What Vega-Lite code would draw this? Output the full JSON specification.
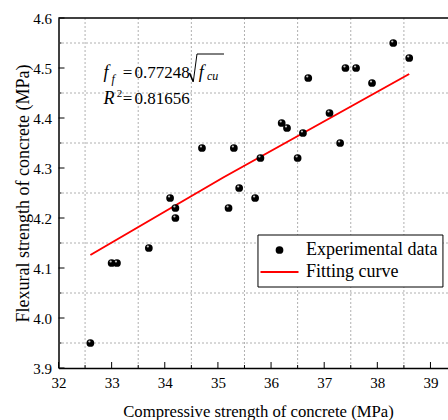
{
  "$schema": "https://vega.github.io/schema/vega-lite/v6.json",
  "autosize": "none",
  "width": 389.5,
  "height": 350,
  "padding": {"left": 58.5, "top": 18, "right": 0, "bottom": 52},
  "background": "white",
  "config": {
    "view": {"stroke": null},
    "font": "Times New Roman"
  },
  "datasets": {
    "points": [
      {"x": 32.6, "y": 3.95, "series": "Experimental data"},
      {"x": 33.0, "y": 4.11, "series": "Experimental data"},
      {"x": 33.1, "y": 4.11, "series": "Experimental data"},
      {"x": 33.7, "y": 4.14, "series": "Experimental data"},
      {"x": 34.1, "y": 4.24, "series": "Experimental data"},
      {"x": 34.2, "y": 4.22, "series": "Experimental data"},
      {"x": 34.2, "y": 4.20, "series": "Experimental data"},
      {"x": 34.7, "y": 4.34, "series": "Experimental data"},
      {"x": 35.2, "y": 4.22, "series": "Experimental data"},
      {"x": 35.3, "y": 4.34, "series": "Experimental data"},
      {"x": 35.4, "y": 4.26, "series": "Experimental data"},
      {"x": 35.7, "y": 4.24, "series": "Experimental data"},
      {"x": 35.8, "y": 4.32, "series": "Experimental data"},
      {"x": 36.2, "y": 4.39, "series": "Experimental data"},
      {"x": 36.3, "y": 4.38, "series": "Experimental data"},
      {"x": 36.5, "y": 4.32, "series": "Experimental data"},
      {"x": 36.6, "y": 4.37, "series": "Experimental data"},
      {"x": 36.7, "y": 4.48, "series": "Experimental data"},
      {"x": 37.1, "y": 4.41, "series": "Experimental data"},
      {"x": 37.3, "y": 4.35, "series": "Experimental data"},
      {"x": 37.4, "y": 4.50, "series": "Experimental data"},
      {"x": 37.6, "y": 4.50, "series": "Experimental data"},
      {"x": 37.9, "y": 4.47, "series": "Experimental data"},
      {"x": 38.3, "y": 4.55, "series": "Experimental data"},
      {"x": 38.6, "y": 4.52, "series": "Experimental data"}
    ],
    "fit": [
      {"x": 32.6, "y": 4.126, "series": "Fitting curve"},
      {"x": 35.1, "y": 4.281, "series": "Fitting curve"},
      {"x": 38.6, "y": 4.488, "series": "Fitting curve"}
    ],
    "gridx": [{"v": 32.5}, {"v": 33.5}, {"v": 34.5}, {"v": 35.5}, {"v": 36.5}, {"v": 37.5}, {"v": 38.5}],
    "gridy": [{"v": 3.95}, {"v": 4.05}, {"v": 4.15}, {"v": 4.25}, {"v": 4.35}, {"v": 4.45}, {"v": 4.55}],
    "xmajor": [{"v": 32}, {"v": 33}, {"v": 34}, {"v": 35}, {"v": 36}, {"v": 37}, {"v": 38}, {"v": 39}],
    "ymajor": [{"v": 3.9}, {"v": 4.0}, {"v": 4.1}, {"v": 4.2}, {"v": 4.3}, {"v": 4.4}, {"v": 4.5}, {"v": 4.6}]
  },
  "layer": [
    {
      "data": {"name": "gridx"},
      "mark": {"type": "rule", "color": "#b0b0b0", "strokeWidth": 1, "strokeDash": [2, 2]},
      "encoding": {
        "x": {
          "field": "v", "type": "quantitative",
          "scale": {"domain": [32, 39.33], "nice": false, "zero": false},
          "axis": {
            "title": "Compressive strength of concrete (MPa)",
            "values": [32, 33, 34, 35, 36, 37, 38, 39],
            "format": "d",
            "labelFont": "Times New Roman", "labelFontSize": 15, "labelColor": "black",
            "labelPadding": 7, "labelFlush": false, "labelOverlap": false,
            "ticks": false, "grid": false,
            "domainColor": "black", "domainWidth": 1.5,
            "titleFont": "Times New Roman", "titleFontSize": 16.7, "titleFontWeight": "normal",
            "titleColor": "black", "titlePadding": 13, "titleX": 199.5
          }
        }
      }
    },
    {
      "data": {"name": "gridy"},
      "mark": {"type": "rule", "color": "#b0b0b0", "strokeWidth": 1, "strokeDash": [2, 2]},
      "encoding": {
        "y": {
          "field": "v", "type": "quantitative",
          "scale": {"domain": [3.9, 4.6], "nice": false, "zero": false},
          "axis": {
            "title": "Flexural strength of concrete (MPa)",
            "values": [3.9, 4.0, 4.1, 4.2, 4.3, 4.4, 4.5, 4.6],
            "format": ".1f",
            "labelFont": "Times New Roman", "labelFontSize": 15, "labelColor": "black",
            "labelPadding": 7, "labelFlush": false, "labelOverlap": false,
            "ticks": false, "grid": false,
            "domainColor": "black", "domainWidth": 1.5,
            "titleFont": "Times New Roman", "titleFontSize": 18, "titleFontWeight": "normal",
            "titleColor": "black", "titlePadding": 0
          }
        }
      }
    },
    {
      "data": {"name": "xmajor"},
      "mark": {"type": "rule", "color": "black", "strokeWidth": 1},
      "encoding": {
        "x": {"field": "v", "type": "quantitative"},
        "y": {"datum": 3.9, "type": "quantitative"},
        "y2": {"datum": 3.912}
      }
    },
    {
      "data": {"name": "gridx"},
      "mark": {"type": "rule", "color": "black", "strokeWidth": 1},
      "encoding": {
        "x": {"field": "v", "type": "quantitative"},
        "y": {"datum": 3.9, "type": "quantitative"},
        "y2": {"datum": 3.906}
      }
    },
    {
      "data": {"name": "ymajor"},
      "mark": {"type": "rule", "color": "black", "strokeWidth": 1},
      "encoding": {
        "y": {"field": "v", "type": "quantitative"},
        "x": {"datum": 32, "type": "quantitative"},
        "x2": {"datum": 32.113}
      }
    },
    {
      "data": {"name": "gridy"},
      "mark": {"type": "rule", "color": "black", "strokeWidth": 1},
      "encoding": {
        "y": {"field": "v", "type": "quantitative"},
        "x": {"datum": 32, "type": "quantitative"},
        "x2": {"datum": 32.056}
      }
    },
    {
      "data": {"values": [{}]},
      "mark": {"type": "rule", "color": "black", "strokeWidth": 1.5},
      "encoding": {"y": {"datum": 4.6, "type": "quantitative"}}
    },
    {
      "data": {"name": "fit"},
      "mark": {"type": "line", "strokeWidth": 2},
      "encoding": {
        "x": {"field": "x", "type": "quantitative"},
        "y": {"field": "y", "type": "quantitative"},
        "color": {
          "field": "series", "type": "nominal",
          "scale": {"domain": ["Experimental data", "Fitting curve"], "range": ["black", "red"]},
          "legend": {
            "orient": "none", "legendX": 208, "legendY": 219,
            "title": null,
            "padding": 4,
            "labelFont": "Times New Roman", "labelFontSize": 18, "labelColor": "black",
            "labelOffset": 17.5, "rowPadding": 4,
            "symbolType": "stroke", "symbolSize": 1444, "symbolStrokeWidth": 2,
            "encode": {
              "symbols": {
                "update": {
                  "shape": {"signal": "datum.value === 'Fitting curve' ? 'stroke' : 'circle'"},
                  "size": {"signal": "datum.value === 'Fitting curve' ? 1444 : 60"},
                  "fill": {"signal": "datum.value === 'Fitting curve' ? 'transparent' : 'black'"},
                  "stroke": {"signal": "datum.value === 'Fitting curve' ? 'red' : 'black'"},
                  "strokeWidth": {"signal": "datum.value === 'Fitting curve' ? 2 : 0"},
                  "opacity": {"value": 1},
                  "fillOpacity": {"value": 1},
                  "strokeOpacity": {"value": 1}
                }
              }
            }
          }
        }
      }
    },
    {
      "data": {"name": "points"},
      "mark": {"type": "point", "filled": true, "size": 60, "opacity": 1},
      "encoding": {
        "x": {"field": "x", "type": "quantitative"},
        "y": {"field": "y", "type": "quantitative"},
        "color": {"field": "series", "type": "nominal"}
      }
    },
    {
      "data": {"name": "points"},
      "mark": {"type": "point", "filled": true, "size": 5, "opacity": 0.85, "color": "#e8e8e8", "xOffset": -1, "yOffset": -1.5},
      "encoding": {
        "x": {"field": "x", "type": "quantitative"},
        "y": {"field": "y", "type": "quantitative"}
      }
    },
    {
      "data": {"values": [{}]},
      "mark": {"type": "rect", "fill": "white", "stroke": "black", "strokeWidth": 1},
      "encoding": {
        "x": {"datum": 35.754, "type": "quantitative"}, "x2": {"datum": 39.235},
        "y": {"datum": 4.166, "type": "quantitative"}, "y2": {"datum": 4.062}
      }
    },
    {
      "data": {"values": [{}]},
      "mark": {"type": "text", "text": "f", "fontStyle": "italic", "fontSize": 18, "align": "left", "baseline": "alphabetic", "color": "black", "font": "Times New Roman"},
      "encoding": {"x": {"datum": 32.847, "type": "quantitative"}, "y": {"datum": 4.4806, "type": "quantitative"}}
    },
    {
      "data": {"values": [{}]},
      "mark": {"type": "text", "text": "f", "fontStyle": "italic", "fontSize": 12, "align": "left", "baseline": "alphabetic", "color": "black", "font": "Times New Roman"},
      "encoding": {"x": {"datum": 32.997, "type": "quantitative"}, "y": {"datum": 4.47, "type": "quantitative"}}
    },
    {
      "data": {"values": [{}]},
      "mark": {"type": "text", "text": "=", "fontSize": 17, "align": "left", "baseline": "alphabetic", "color": "black", "font": "Times New Roman"},
      "encoding": {"x": {"datum": 33.21, "type": "quantitative"}, "y": {"datum": 4.4806, "type": "quantitative"}}
    },
    {
      "data": {"values": [{}]},
      "mark": {"type": "text", "text": "0.77248", "fontSize": 17, "align": "left", "baseline": "alphabetic", "color": "black", "font": "Times New Roman"},
      "encoding": {"x": {"datum": 33.43, "type": "quantitative"}, "y": {"datum": 4.4806, "type": "quantitative"}}
    },
    {
      "data": {"values": [{}]},
      "mark": {"type": "rule", "color": "black", "strokeWidth": 1.6},
      "encoding": {"x": {"datum": 34.4652, "type": "quantitative"}, "x2": {"datum": 34.5367}, "y": {"datum": 4.49, "type": "quantitative"}, "y2": {"datum": 4.4726}}
    },
    {
      "data": {"values": [{}]},
      "mark": {"type": "rule", "color": "black", "strokeWidth": 1},
      "encoding": {"x": {"datum": 34.5367, "type": "quantitative"}, "x2": {"datum": 34.6063}, "y": {"datum": 4.4726, "type": "quantitative"}, "y2": {"datum": 4.528}}
    },
    {
      "data": {"values": [{}]},
      "mark": {"type": "rule", "color": "black", "strokeWidth": 1},
      "encoding": {"x": {"datum": 34.6063, "type": "quantitative"}, "x2": {"datum": 35.1144}, "y": {"datum": 4.528, "type": "quantitative"}}
    },
    {
      "data": {"values": [{}]},
      "mark": {"type": "text", "text": "f", "fontStyle": "italic", "fontSize": 18, "align": "left", "baseline": "alphabetic", "color": "black", "font": "Times New Roman"},
      "encoding": {"x": {"datum": 34.64, "type": "quantitative"}, "y": {"datum": 4.4806, "type": "quantitative"}}
    },
    {
      "data": {"values": [{}]},
      "mark": {"type": "text", "text": "cu", "fontStyle": "italic", "fontSize": 12, "align": "left", "baseline": "alphabetic", "color": "black", "font": "Times New Roman"},
      "encoding": {"x": {"datum": 34.795, "type": "quantitative"}, "y": {"datum": 4.476, "type": "quantitative"}}
    },
    {
      "data": {"values": [{}]},
      "mark": {"type": "text", "text": "R", "fontStyle": "italic", "fontSize": 18, "align": "left", "baseline": "alphabetic", "color": "black", "font": "Times New Roman"},
      "encoding": {"x": {"datum": 32.847, "type": "quantitative"}, "y": {"datum": 4.4274, "type": "quantitative"}}
    },
    {
      "data": {"values": [{}]},
      "mark": {"type": "text", "text": "2", "fontSize": 11, "align": "left", "baseline": "alphabetic", "color": "black", "font": "Times New Roman"},
      "encoding": {"x": {"datum": 33.095, "type": "quantitative"}, "y": {"datum": 4.4426, "type": "quantitative"}}
    },
    {
      "data": {"values": [{}]},
      "mark": {"type": "text", "text": "=", "fontSize": 17, "align": "left", "baseline": "alphabetic", "color": "black", "font": "Times New Roman"},
      "encoding": {"x": {"datum": 33.21, "type": "quantitative"}, "y": {"datum": 4.4274, "type": "quantitative"}}
    },
    {
      "data": {"values": [{}]},
      "mark": {"type": "text", "text": "0.81656", "fontSize": 17, "align": "left", "baseline": "alphabetic", "color": "black", "font": "Times New Roman"},
      "encoding": {"x": {"datum": 33.43, "type": "quantitative"}, "y": {"datum": 4.4274, "type": "quantitative"}}
    }
  ]
}
